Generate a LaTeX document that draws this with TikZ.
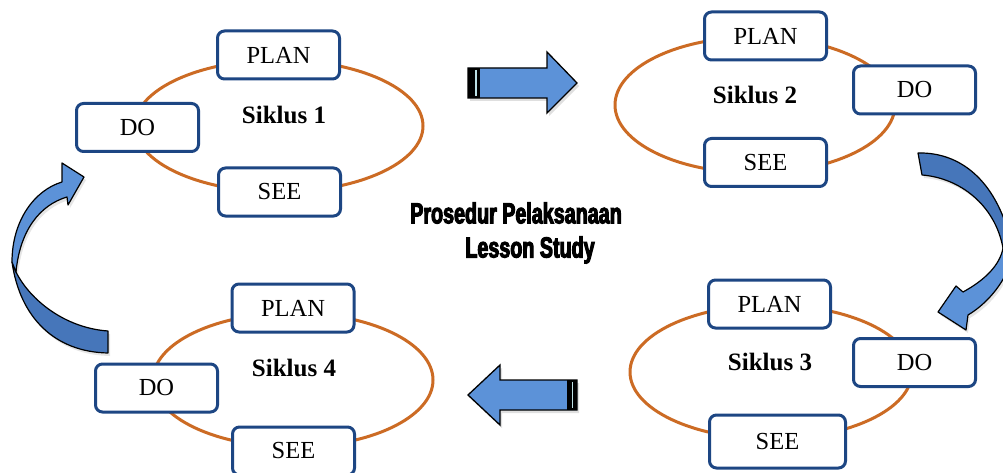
\documentclass[tikz,border=0pt]{standalone}
\usepackage{fontspec}
\setmainfont{Liberation Serif}
\newfontfamily\titlefont[FakeStretch=0.68,BoldFeatures={FakeBold=3.5}]{Liberation Sans}
\usepackage{tikz}
\usetikzlibrary{positioning,shadows}
\definecolor{boxline}{HTML}{1D4683}
\definecolor{cycleline}{HTML}{CC6B24}
\definecolor{arrlight}{HTML}{5C92D8}
\definecolor{arrdark}{HTML}{4676BA}
\definecolor{stripe}{HTML}{BDE0E6}

\begin{document}
\begin{tikzpicture}[x=1pt, y=-1pt,
      stage/.style={draw=boxline, fill=white, line width=3pt, rounded
      corners=7pt, minimum width=122pt, minimum height=48pt, inner sep=0pt,
      font=\fontsize{24.5}{28}\selectfont},
      cyc/.style={draw=cycleline, line width=3pt},
      siklus/.style={font=\fontsize{25}{30}\selectfont\bfseries},
      block/.style={fill=arrlight, draw=black, line width=1.3pt,
      drop shadow={opacity=0.25, shadow xshift=2pt, shadow yshift=-3pt}},
      curvearr/.style={draw=black, line width=1.2pt, line join=round,
      drop shadow={opacity=0.2, shadow xshift=2pt, shadow yshift=-3pt}},
    ]
    \useasboundingbox (0,0) rectangle (1003,473);
    \fill[white] (0,0) rectangle (1003,473);

    % Cycles
    \draw[cyc] (279,126) ellipse [x radius=144, y radius=66];
    \draw[cyc] (755,105) ellipse [x radius=140, y radius=68];
    \draw[cyc] (771,372) ellipse [x radius=141, y radius=67];
    \draw[cyc] (293,380) ellipse [x radius=140, y radius=67];

    % Siklus 1
    \node[stage] (plan1) at (278.5,55) {PLAN};
    \node[stage] (do1) at (137.5,127.5) {DO};
    \node[stage] (see1) at (279.5,192) {SEE};
    \node[siklus] (sik1) at (284,115) {Siklus 1};

    % Siklus 2
    \node[stage] (plan2) at (765.5,36) {PLAN};
    \node[stage] (do2) at (914.5,90) {DO};
    \node[stage] (see2) at (765.5,162.5) {SEE};
    \node[siklus] (sik2) at (755,95) {Siklus 2};

    % Siklus 3
    \node[stage] (plan3) at (769.5,304) {PLAN};
    \node[stage] (do3) at (914.5,362.5) {DO};
    \node[stage, minimum width=136pt, minimum height=53pt] (see3) at (777.5,441.5) {SEE};
    \node[siklus] (sik3) at (770,362) {Siklus 3};

    % Siklus 4
    \node[stage] (plan4) at (293,308) {PLAN};
    \node[stage] (do4) at (156.5,388) {DO};
    \node[stage] (see4) at (293.5,451) {SEE};
    \node[siklus] (sik4) at (294,368) {Siklus 4};

    % Title
    \node[font=\titlefont\fontsize{29}{32}\selectfont\bfseries] (judul1) at (516,213) {Prosedur Pelaksanaan};
    \node[font=\titlefont\fontsize{29}{32}\selectfont\bfseries] (judul2) at (530,250) {Lesson Study};

    % Block arrows
    \filldraw[block] (468,68) -- (547,68) -- (547,52) -- (577,83) -- (547,113)
      -- (547,98) -- (468,98) -- cycle;
    \fill[black] (468,68) rectangle (480,98);
    \draw[stripe, line width=1.5pt] (476,70) -- (476,96);

    \filldraw[block] (577,380) -- (500,380) -- (500,365) -- (468,395) -- (500,425)
      -- (500,410) -- (577,410) -- cycle;
    \fill[black] (567,380) rectangle (577,410);
    \draw[stripe, line width=1.5pt] (572.5,382) -- (572.5,408);

    % Curved arrow, right side
    \begin{scope}
      \clip (0,0) rectangle (1003,473);
      \filldraw[curvearr, fill=arrdark]
        (918,153) .. controls (960,152) and (995,180) .. (1010,238)
        -- (1003,248) .. controls (995,205) and (960,178) .. (922,175) -- cycle;
      \filldraw[curvearr, fill=arrlight]
        (1014,245) .. controls (1012,275) and (990,302) .. (968,315)
        -- (966,330) -- (938,312) -- (956,286) -- (963,292)
        .. controls (985,280) and (1000,265) .. (1003,248) -- cycle;
    \end{scope}

    % Curved arrow, left side
    \filldraw[curvearr, fill=arrdark]
      (108,331) -- (108,353) .. controls (55,352) and (20,318) .. (12,262)
      -- (16,272) .. controls (30,300) and (65,328) .. (108,331) -- cycle;
    \filldraw[curvearr, fill=arrlight]
      (12,262) .. controls (12,220) and (35,190) .. (62,182) -- (62,163) -- (84,177)
      -- (68,205) -- (67,197) .. controls (40,205) and (20,230) .. (16,272) -- cycle;
  \end{tikzpicture}
\end{document}
